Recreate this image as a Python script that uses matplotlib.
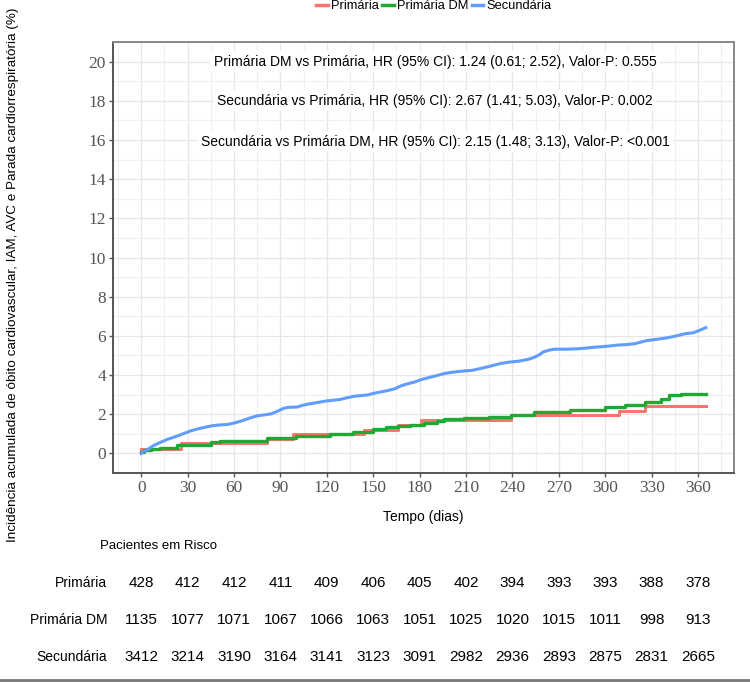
import numpy as np
import matplotlib
matplotlib.use("Agg")
import matplotlib.pyplot as plt
from matplotlib import transforms
from matplotlib.lines import Line2D

# cumulative incidence (%), step points (day, value)
prim_t = [0, 26, 81, 98, 144, 166, 181, 239, 309, 326, 365]
prim_y = [0.23, 0.51, 0.73, 0.97, 1.19, 1.44, 1.68, 1.95, 2.17, 2.43, 2.43]

dm_t = [0, 2, 6, 12, 23, 45, 51, 81, 100, 122, 137, 150, 158, 166, 174, 183, 191,
        196, 209, 225, 239, 254, 277, 300, 313, 326, 336, 341, 349, 365]
dm_y = [0.07, 0.15, 0.22, 0.30, 0.44, 0.56, 0.65, 0.77, 0.90, 0.98, 1.10, 1.24, 1.33,
        1.38, 1.46, 1.55, 1.66, 1.75, 1.83, 1.88, 1.97, 2.12, 2.22, 2.35, 2.48, 2.63,
        2.77, 2.97, 3.04, 3.04]

sec_t = [0, 2, 5, 8, 12, 17, 22, 27, 32, 38, 45, 50, 56, 60, 65, 70, 75, 80, 84, 88,
         92, 95, 101, 104, 108, 114, 120, 125, 129, 133, 138, 146, 150, 155, 160, 164,
         168, 172, 177, 181, 186, 191, 196, 201, 205, 209, 214, 219, 224, 229, 233, 238,
         245, 250, 254, 257, 260, 263, 267, 275, 282, 288, 293, 300, 308, 313, 319, 323,
         327, 333, 340, 345, 351, 357, 361, 365]
sec_y = [0.0, 0.10, 0.25, 0.40, 0.55, 0.72, 0.85, 1.00, 1.15, 1.28, 1.40, 1.45, 1.48,
         1.55, 1.66, 1.80, 1.92, 1.97, 2.02, 2.15, 2.30, 2.35, 2.37, 2.45, 2.52, 2.60,
         2.68, 2.72, 2.76, 2.84, 2.92, 2.98, 3.06, 3.14, 3.22, 3.30, 3.45, 3.55, 3.65,
         3.77, 3.87, 3.97, 4.08, 4.14, 4.18, 4.21, 4.24, 4.33, 4.42, 4.52, 4.60, 4.66,
         4.72, 4.80, 4.90, 5.02, 5.18, 5.26, 5.32, 5.32, 5.34, 5.38, 5.42, 5.46, 5.53,
         5.55, 5.60, 5.68, 5.76, 5.82, 5.90, 5.98, 6.10, 6.16, 6.28, 6.42]

groups = ["Primária", "Primária DM", "Secundária"]
colors = ["#F8766D", "#1FA833", "#619CFF"]

hr_texts = [
    "Primária DM vs Primária, HR (95% CI): 1.24 (0.61; 2.52), Valor-P: 0.555",
    "Secundária vs Primária, HR (95% CI): 2.67 (1.41; 5.03), Valor-P: 0.002",
    "Secundária vs Primária DM, HR (95% CI): 2.15 (1.48; 3.13), Valor-P: <0.001",
]
hr_y = [20, 18, 15.9]

risk_days = [0, 30, 60, 90, 120, 150, 180, 210, 240, 270, 300, 330, 360]
risk_prim = [428, 412, 412, 411, 409, 406, 405, 402, 394, 393, 393, 388, 378]
risk_dm = [1135, 1077, 1071, 1067, 1066, 1063, 1051, 1025, 1020, 1015, 1011, 998, 913]
risk_sec = [3412, 3214, 3190, 3164, 3141, 3123, 3091, 2982, 2936, 2893, 2875, 2831, 2665]

W, H = 750, 682
fig = plt.figure(figsize=(W / 100, H / 100), dpi=100)
fig.patch.set_facecolor("white")

def px(x0, y0, x1, y1):
    return [x0 / W, 1 - y1 / H, (x1 - x0) / W, (y1 - y0) / H]

ax = fig.add_axes(px(113, 42, 734, 473))
ax.set_xlim(-18.25, 383.25)
ax.set_ylim(-1, 21)

ax.set_xticks(risk_days)
ax.set_yticks(np.arange(0, 21, 2))
ax.set_xticks(np.arange(-15, 390, 30), minor=True)
ax.set_yticks(np.arange(-1, 22, 2), minor=True)
ax.grid(which="major", color="#E6E6E6", lw=0.9)
ax.grid(which="minor", color="#F0F0F0", lw=0.8)
ax.set_axisbelow(True)
ax.tick_params(which="minor", length=0)
ax.tick_params(which="major", length=3, width=1, color="#555555", pad=2,
               labelcolor="#555555", labelsize=12.5)
for lab in ax.get_xticklabels() + ax.get_yticklabels():
    lab.set_family("Liberation Serif")
for s in ax.spines.values():
    s.set_color("#888888")
    s.set_linewidth(1.4)
for s in ["left", "bottom"]:
    ax.spines[s].set_color("#555555")

ax.step(prim_t, prim_y, where="post", color=colors[0], lw=2.2, zorder=3)
ax.step(dm_t, dm_y, where="post", color=colors[1], lw=2.4, zorder=4)
# many small events: draw as a line through the read points
ax.plot(sec_t, sec_y, color=colors[2], lw=2.2, zorder=5)

for txt, yy in zip(hr_texts, hr_y):
    ax.text(190, yy, txt, ha="center", va="center", fontsize=10,
            family="Liberation Sans", color="black", zorder=6,
            bbox=dict(boxstyle="square,pad=0.25", fc="white", ec="none"))

fig.text(423 / W, 1 - 517 / H, "Tempo (dias)", ha="center", va="center",
         fontsize=10, family="Liberation Sans")
fig.text(13 / W, 1 - 275 / H,
         "Incidência acumulada de óbito cardiovascular, IAM, AVC e Parada cardiorrespiratória (%)",
         rotation=90, ha="center", va="center", fontsize=9.7, family="Liberation Sans")

handles = [Line2D([], [], color=c, lw=2.5) for c in colors]
fig.legend(handles, groups, loc="center", bbox_to_anchor=(434 / W, 1 - 6 / H),
           ncol=3, frameon=False, handlelength=0.9, handletextpad=0.25,
           columnspacing=0.25, borderpad=0.1,
           prop={"family": "Liberation Sans", "size": 9.3})

# risk table
fig.text(100 / W, 1 - 546 / H, "Pacientes em Risco", ha="left", va="center",
         fontsize=9.5, family="Liberation Sans")
blend = transforms.blended_transform_factory(ax.transData, fig.transFigure)
rows = [risk_prim, risk_dm, risk_sec]
row_y = [583, 620, 657]
for name, vals, yy in zip(groups, rows, row_y):
    fig.text(107 / W, 1 - yy / H, name, ha="right", va="center",
             fontsize=10, family="Liberation Sans")
    for d, v in zip(risk_days, vals):
        ax.text(d, 1 - yy / H, str(v), transform=blend, ha="center", va="center",
                fontsize=11, family="Liberation Sans", clip_on=False)

fig.add_artist(Line2D([0, 1], [1 - 680 / H, 1 - 680 / H], color="#777777", lw=2,
                      transform=fig.transFigure))

fig.savefig("out.png", dpi=100)
